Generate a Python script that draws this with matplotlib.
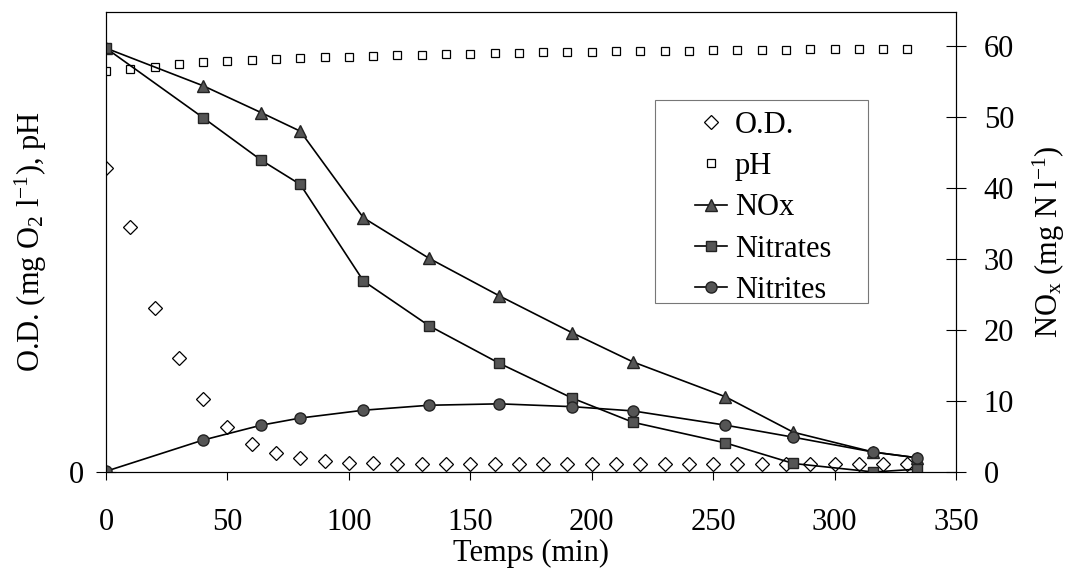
import numpy as np
import matplotlib
matplotlib.use('agg')
import matplotlib.pyplot as plt
from matplotlib.patches import Rectangle

plt.rcParams['font.family'] = ['Liberation Serif', 'DejaVu Serif']
plt.rcParams['mathtext.fontset'] = 'custom'
plt.rcParams['mathtext.rm'] = 'Liberation Serif'
plt.rcParams['mathtext.it'] = 'Liberation Serif:italic'

# O.D. and pH, every 10 min (left axis)
t_od = [0, 10, 20, 30, 40, 50, 60, 70, 80, 90, 100, 110, 120, 130, 140, 150, 160,
        170, 180, 190, 200, 210, 220, 230, 240, 250, 260, 270, 280, 290, 300, 310, 320, 330]
od = [5.95, 4.79, 3.21, 2.23, 1.43, 0.88, 0.55, 0.37, 0.27, 0.22, 0.18, 0.17, 0.16, 0.15,
      0.15, 0.15, 0.15, 0.15, 0.15, 0.15, 0.15, 0.15, 0.15, 0.15, 0.15, 0.15, 0.15, 0.15,
      0.16, 0.16, 0.16, 0.16, 0.16, 0.16]
ph = [7.85, 7.89, 7.93, 7.98, 8.02, 8.04, 8.06, 8.08, 8.09, 8.11, 8.12, 8.14, 8.15, 8.16,
      8.17, 8.18, 8.19, 8.20, 8.21, 8.22, 8.22, 8.23, 8.23, 8.24, 8.24, 8.25, 8.25, 8.26,
      8.26, 8.27, 8.27, 8.28, 8.28, 8.28]

# nitrogen species (right axis, mg N/l)
t_n = [0, 40, 64, 80, 106, 133, 162, 192, 217, 255, 283, 316, 334]
nox = [59.7, 54.4, 50.6, 48.0, 35.8, 30.1, 24.8, 19.6, 15.5, 10.6, 5.6, 2.8, 2.0]
nitrates = [59.7, 49.9, 43.9, 40.5, 26.9, 20.6, 15.3, 10.4, 7.0, 4.1, 1.2, 0.0, 0.4]
nitrites = [0.1, 4.5, 6.6, 7.6, 8.7, 9.4, 9.6, 9.2, 8.6, 6.6, 4.9, 2.8, 2.0]

fs = 22
fig = plt.figure(figsize=(10.73, 5.69), dpi=100)
ax = fig.add_axes([0.0988, 0.1705, 0.7922, 0.8085])
ax2 = ax.twinx()

fill = '#555555'
h1, = ax.plot(t_od, od, ls='none', marker='D', ms=7, mfc='white', mec='black', mew=0.9,
              label='O.D.')
h2, = ax.plot(t_od, ph, ls='none', marker='s', ms=5.5, mfc='white', mec='black', mew=0.9,
              label='pH')
h3, = ax2.plot(t_n, nox, color='black', lw=1.2, marker='^', ms=8.5, mfc=fill, mec='#222222',
               label='NOx')
h4, = ax2.plot(t_n, nitrates, color='black', lw=1.2, marker='s', ms=7.5, mfc=fill,
               mec='#222222', label='Nitrates')
h5, = ax2.plot(t_n, nitrites, color='black', lw=1.2, marker='o', ms=8, mfc=fill,
               mec='#222222', label='Nitrites')

ax.set_xlim(0, 350)
ax.set_ylim(0, 9)
ax2.set_ylim(0, 64.8)
ax.set_xticks(np.arange(0, 351, 50))
ax.set_yticks([0])
ax2.set_yticks(np.arange(0, 61, 10))

ax.tick_params(axis='x', direction='out', length=6, labelsize=fs, pad=20)
ax.tick_params(axis='y', direction='inout', length=14, labelsize=fs, pad=9)
ax2.tick_params(axis='y', direction='inout', length=14, labelsize=fs, pad=13)

ax.set_xlabel('Temps (min)', fontsize=fs, labelpad=1)
ax.set_ylabel('O.D. (mg O$_2$ l$^{-1}$), pH', fontsize=fs, labelpad=14)
ax2.set_ylabel('NO$_\\mathrm{x}$ (mg N l$^{-1}$)', fontsize=fs, labelpad=12)

# legend box drawn by hand, entries placed inside it
ax2.add_patch(Rectangle((0.646, 0.367), 0.251, 0.442, transform=ax2.transAxes,
                        facecolor='white', edgecolor='#777777', lw=0.8, zorder=5))
leg = ax2.legend(handles=[h1, h2, h3, h4, h5], loc='upper left',
                 bbox_to_anchor=(0.693, 0.785), fontsize=fs, frameon=False,
                 handlelength=1.05, handletextpad=0.25, borderpad=0, labelspacing=0.4,
                 borderaxespad=0)
leg.set_zorder(6)

fig.savefig('out.png', dpi=100)
